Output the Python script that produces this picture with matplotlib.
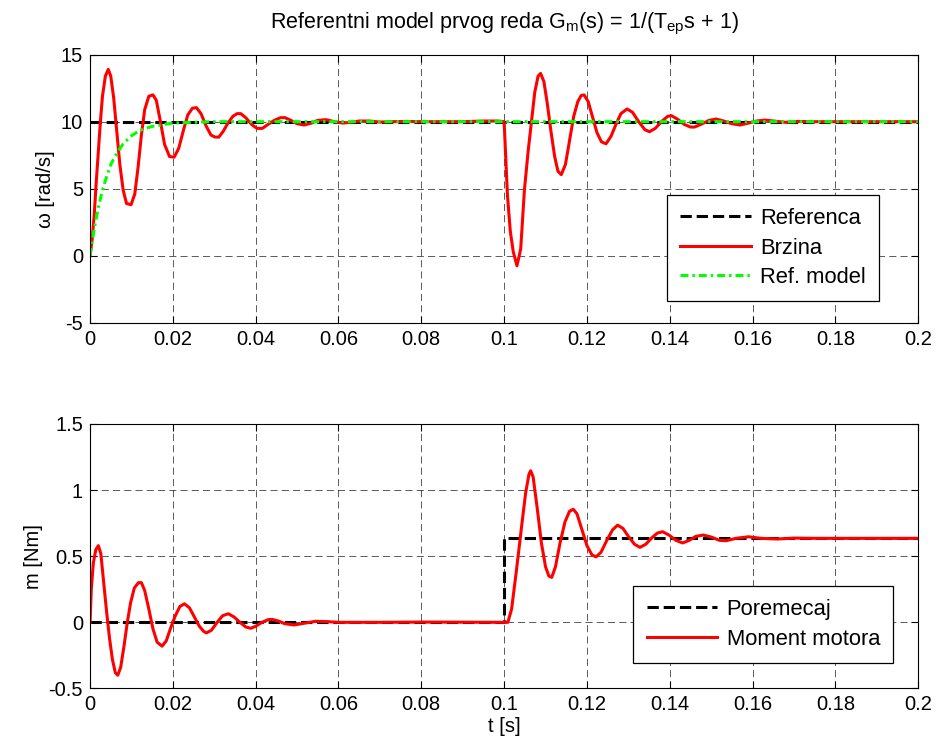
import matplotlib
matplotlib.use("Agg")
import matplotlib.pyplot as plt

plt.rcParams['font.family'] = ['Liberation Sans', 'DejaVu Sans']
plt.rcParams['mathtext.default'] = 'regular'
plt.rcParams['axes.unicode_minus'] = False

# --- data ---
t_ref = [0.0, 0.2]
w_ref = [10.0, 10.0]

t_model = [0.0, 0.001, 0.002, 0.003, 0.004, 0.005, 0.006, 0.007, 0.008,
           0.010, 0.012, 0.015, 0.020, 0.025, 0.030, 0.2]
w_model = [0.0, 2.0, 3.6, 4.9, 5.9, 6.8, 7.4, 7.9, 8.35,
           8.95, 9.35, 9.65, 9.9, 9.96, 10.0, 10.0]

t_speed = [0.0, 0.0005, 0.0010, 0.0015, 0.0020, 0.0025, 0.0030, 0.0037, 0.0044,
           0.0050, 0.0057, 0.0064, 0.0072, 0.0080, 0.0088, 0.0099, 0.0108,
           0.0116, 0.0124, 0.0132, 0.0142, 0.0152, 0.0160, 0.0170, 0.0180,
           0.0192, 0.0203, 0.0214, 0.0225, 0.0236, 0.0247, 0.0257, 0.0268,
           0.0280, 0.0292, 0.0302, 0.0311, 0.0322, 0.0333, 0.0345, 0.0355,
           0.0364, 0.0376, 0.0390, 0.0403, 0.0416, 0.0430, 0.0445, 0.0460,
           0.0471, 0.0485, 0.0500, 0.0517, 0.0535, 0.0550, 0.0570, 0.0590,
           0.0610, 0.0630, 0.0650, 0.0675, 0.0700, 0.0730, 0.0760, 0.0800,
           0.0900, 0.0950, 0.0985, 0.1000,
           0.1003, 0.1008, 0.1015, 0.1022, 0.1031, 0.1040, 0.1049, 0.1058,
           0.1066, 0.1074, 0.1082, 0.1088, 0.1096, 0.1104, 0.1113, 0.1122,
           0.1130, 0.1138, 0.1148, 0.1158, 0.1168, 0.1178, 0.1186, 0.1193,
           0.1203, 0.1213, 0.1224, 0.1235, 0.1246, 0.1258, 0.1270, 0.1282,
           0.1297, 0.1310, 0.1325, 0.1340, 0.1351, 0.1365, 0.1380, 0.1395,
           0.1404, 0.1418, 0.1435, 0.1450, 0.1460, 0.1475, 0.1495, 0.1512,
           0.1530, 0.1550, 0.1570, 0.1590, 0.1610, 0.1630, 0.1650, 0.1680,
           0.1710, 0.1750, 0.2000]
w_speed = [0.0, 1.2, 3.0, 5.5, 7.8, 10.0, 11.9, 13.4, 13.9,
           13.4, 11.8, 9.5, 6.8, 4.9, 3.9, 3.8, 4.6,
           6.6, 9.0, 10.9, 11.9, 12.0, 11.6, 10.0, 8.3,
           7.4, 7.35, 8.0, 9.3, 10.5, 11.0, 11.05, 10.6,
           9.7, 9.0, 8.85, 8.85, 9.3, 9.9, 10.4, 10.6,
           10.6, 10.3, 9.8, 9.5, 9.5, 9.8, 10.1, 10.3,
           10.3, 10.1, 9.85, 9.75, 9.9, 10.1, 10.15, 10.0,
           9.9, 9.95, 10.05, 10.05, 9.97, 10.0, 10.02, 10.0,
           10.0, 10.05, 10.05, 10.0,
           8.0, 4.5, 1.8, 0.3, -0.75, 0.5, 4.9, 7.8,
           10.0, 12.2, 13.4, 13.6, 13.0, 11.4, 9.3, 7.4,
           6.3, 6.05, 6.8, 8.6, 10.4, 11.5, 11.95, 12.0,
           11.5, 10.4, 9.2, 8.5, 8.35, 8.9, 9.8, 10.6,
           10.95, 10.7, 10.0, 9.4, 9.25, 9.5, 10.0, 10.4,
           10.45, 10.2, 9.8, 9.6, 9.6, 9.8, 10.1, 10.2,
           10.05, 9.85, 9.75, 9.9, 10.05, 10.12, 10.05, 9.95,
           10.02, 10.0, 10.0]

t_dist = [0.0, 0.1, 0.1, 0.2]
m_dist = [0.0, 0.0, 0.635, 0.635]

t_torque = [0.0, 0.0003, 0.0008, 0.0014, 0.0020, 0.0026, 0.0033, 0.0040, 0.0047,
            0.0054, 0.0061, 0.0067, 0.0074, 0.0082, 0.0090, 0.0098, 0.0107,
            0.0117, 0.0124, 0.0132, 0.0142, 0.0152, 0.0162, 0.0174, 0.0184,
            0.0195, 0.0206, 0.0217, 0.0228, 0.0240, 0.0252, 0.0264, 0.0275,
            0.0281, 0.0293, 0.0307, 0.0320, 0.0334, 0.0348, 0.0362, 0.0376,
            0.0388, 0.0400, 0.0415, 0.0430, 0.0440, 0.0455, 0.0470, 0.0493,
            0.0515, 0.0545, 0.0575, 0.0600, 0.0700, 0.0800, 0.1009,
            0.1018, 0.1030, 0.1042, 0.1052, 0.1060, 0.1064, 0.1070, 0.1080,
            0.1090, 0.1100, 0.1108, 0.1115, 0.1124, 0.1135, 0.1147, 0.1158,
            0.1167, 0.1176, 0.1188, 0.1200, 0.1212, 0.1222, 0.1234, 0.1248,
            0.1262, 0.1274, 0.1287, 0.1300, 0.1315, 0.1328, 0.1342, 0.1357,
            0.1370, 0.1383, 0.1398, 0.1415, 0.1431, 0.1447, 0.1463, 0.1481,
            0.1500, 0.1520, 0.1536, 0.1560, 0.1590, 0.1620, 0.1660, 0.1700,
            0.1750, 0.2000]
m_torque = [0.0, 0.25, 0.45, 0.55, 0.58, 0.52, 0.30, 0.08, -0.12,
            -0.28, -0.38, -0.40, -0.34, -0.18, 0.0, 0.15, 0.26,
            0.30, 0.30, 0.24, 0.10, -0.05, -0.15, -0.18, -0.14,
            -0.04, 0.05, 0.12, 0.14, 0.11, 0.04, -0.03, -0.07,
            -0.08, -0.06, 0.0, 0.05, 0.065, 0.04, 0.0, -0.035,
            -0.045, -0.03, 0.0, 0.02, 0.022, 0.01, -0.01, -0.02,
            -0.008, 0.008, 0.005, 0.0, 0.0, 0.002, 0.0,
            0.1, 0.40, 0.72, 0.98, 1.12, 1.146, 1.10, 0.86,
            0.60, 0.42, 0.35, 0.34, 0.42, 0.60, 0.76, 0.84,
            0.855, 0.82, 0.70, 0.58, 0.51, 0.495, 0.53, 0.62,
            0.70, 0.735, 0.71, 0.65, 0.59, 0.567, 0.59, 0.64,
            0.675, 0.685, 0.66, 0.62, 0.60, 0.62, 0.65, 0.66,
            0.645, 0.62, 0.617, 0.635, 0.647, 0.635, 0.630, 0.637,
            0.635, 0.635]

x_ticks = [0, 0.02, 0.04, 0.06, 0.08, 0.1, 0.12, 0.14, 0.16, 0.18, 0.2]
x_labels = ['0', '0.02', '0.04', '0.06', '0.08', '0.1', '0.12', '0.14', '0.16', '0.18', '0.2']
y1_ticks = [-5, 0, 5, 10, 15]
y2_ticks = [-0.5, 0, 0.5, 1, 1.5]
y2_labels = ['-0.5', '0', '0.5', '1', '1.5']

FS = 14.5


def style(ax):
    ax.set_xlim(0, 0.2)
    ax.set_xticks(x_ticks)
    ax.set_xticklabels(x_labels)
    ax.grid(True, color='black', linestyle=(0, (8.5, 5)), linewidth=0.6, alpha=0.75)
    ax.tick_params(direction='in', top=True, right=True, labelsize=FS, length=5, pad=5)
    for s in ax.spines.values():
        s.set_linewidth(0.8)


def legend(ax, anchor):
    leg = ax.legend(loc='lower right', bbox_to_anchor=anchor, borderaxespad=0,
                    fancybox=False, edgecolor='black', framealpha=1, fontsize=15.8,
                    handlelength=3.2, handletextpad=0.45, borderpad=0.6,
                    labelspacing=0.38)
    leg.get_frame().set_linewidth(0.9)


fig = plt.figure(figsize=(9.36, 7.53), dpi=100)
ax1 = fig.add_axes([0.0962, 0.5714, 0.8848, 0.356])
ax2 = fig.add_axes([0.0962, 0.0857, 0.8848, 0.3513])

ax1.plot(t_ref, w_ref, 'k--', lw=2.2, label='Referenca')
ax1.plot(t_speed, w_speed, color='red', lw=2.2, label='Brzina')
ax1.plot(t_model, w_model, color='#00ff00', ls=(0, (2.6, 1.3, 0.8, 1.3)), lw=2.2,
         label='Ref. model')
ax1.set_ylim(-5, 15)
ax1.set_yticks(y1_ticks)
style(ax1)
ax1.set_ylabel('ω [rad/s]', fontsize=FS)
ax1.set_title('Referentni model prvog reda G$_m$(s) = 1/(T$_{ep}$s + 1)', fontsize=15.5, pad=19)
legend(ax1, (0.953, 0.081))

ax2.plot(t_dist, m_dist, 'k--', lw=2.2, label='Poremecaj')
ax2.plot(t_torque, m_torque, color='red', lw=2.2, label='Moment motora')
ax2.set_ylim(-0.5, 1.5)
ax2.set_yticks(y2_ticks)
ax2.set_yticklabels(y2_labels)
style(ax2)
ax2.set_ylabel('m [Nm]', fontsize=FS)
ax2.set_xlabel('t [s]', fontsize=FS, labelpad=2)
legend(ax2, (0.970, 0.0975))

fig.savefig('out.png', dpi=100)
